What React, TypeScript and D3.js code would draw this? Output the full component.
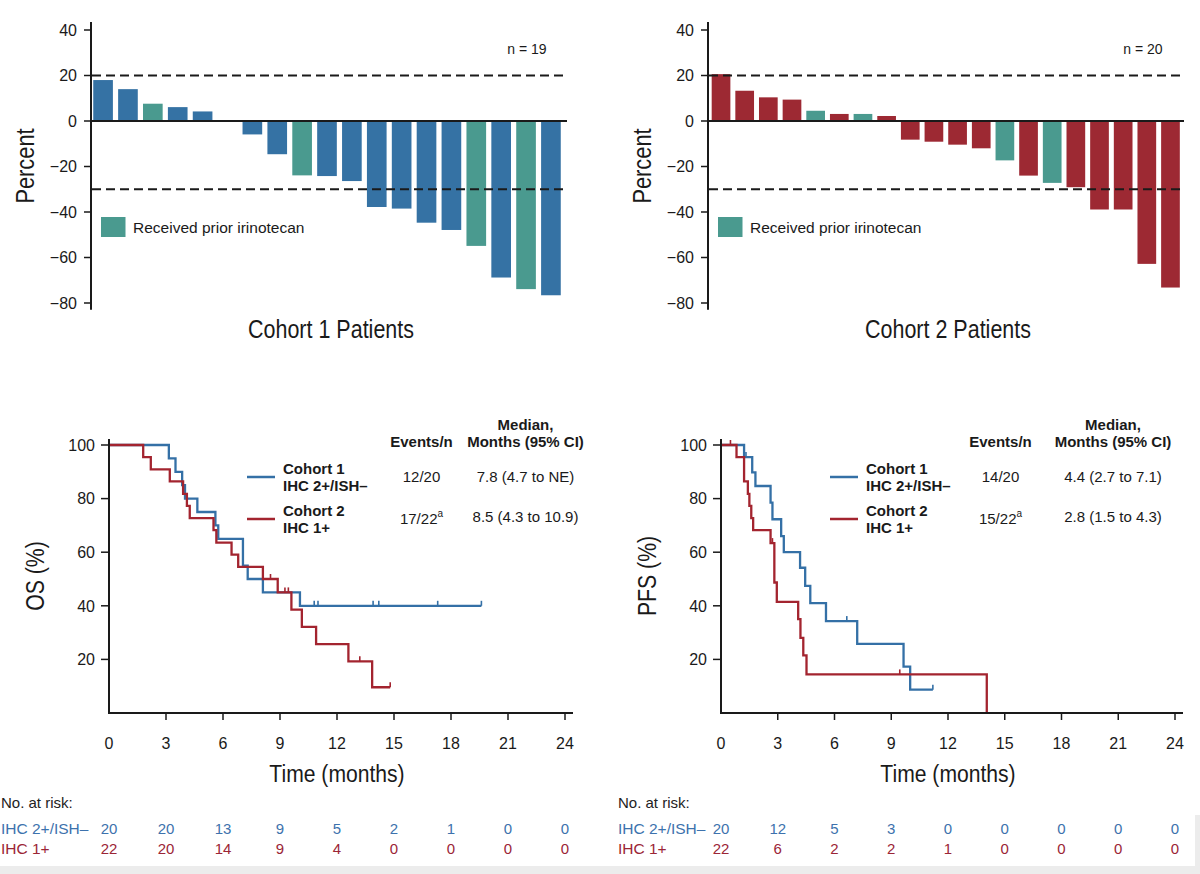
import React from "react";
import * as d3 from "d3";

// ---------- Waterfall data ----------
const cohort1Change = [18, 14, 7.6, 6.1, 4.2, 0, -5.9, -14.6, -23.9, -24.2, -26.4, -37.8, -38.5, -44.7, -47.9, -54.9, -68.8, -73.9, -76.6];
const cohort1PriorIrinotecan = [false, false, true, false, false, false, false, false, true, false, false, false, false, false, false, true, false, true, false];
const cohort2Change = [20.6, 13.3, 10.4, 9.4, 4.5, 3.1, 3.1, 2.2, -8.2, -9.1, -10.4, -12.0, -17.3, -24.0, -27.2, -29.1, -38.9, -38.9, -62.8, -73.2];
const cohort2PriorIrinotecan = [false, false, false, false, true, false, true, false, false, false, false, false, true, false, true, false, false, false, false, false];
const waterfallTicks = [40, 20, 0, -20, -40, -60, -80];
const responseThresholds = [20, -30];

// ---------- Kaplan-Meier data ----------
const osC1Times = [0, 3.15, 3.5, 3.85, 4.0, 4.65, 5.6, 5.75, 7.05, 7.3, 8.1, 10.05];
const osC1Surv = [100, 95, 90, 85, 80, 75, 70, 65, 55, 50, 45, 40];
const osC1End = 19.6;
const osC1Censor = [10.8, 11.0, 13.9, 14.2, 17.3, 19.6];

const osC2Times = [0, 1.8, 2.2, 3.2, 3.9, 4.1, 4.25, 5.5, 5.65, 6.45, 6.8, 8.1, 8.88, 9.6, 10.15, 10.9, 12.6, 13.85];
const osC2Surv = [100, 95.5, 90.9, 86.4, 81.8, 77.3, 72.7, 68.2, 63.6, 59.1, 54.5, 50, 45, 38.6, 32.1, 25.7, 19.3, 9.6];
const osC2End = 14.8;
const osC2Censor = [8.5, 9.26, 9.44, 13.2, 14.8];

const pfsC1Times = [0, 1.22, 1.65, 1.82, 2.62, 2.72, 3.18, 3.32, 4.18, 4.45, 4.72, 5.55, 7.2, 9.65, 10.0];
const pfsC1Surv = [100, 95.5, 89.8, 84.7, 78.5, 72.3, 66, 60, 54.2, 47.4, 41, 34.3, 25.8, 17.3, 8.7];
const pfsC1End = 11.2;
const pfsC1Censor = [1.32, 6.65, 11.2];

const pfsC2Times = [0, 0.82, 1.22, 1.42, 1.5, 1.6, 1.7, 2.62, 2.82, 2.95, 4.08, 4.2, 4.35, 4.52, 14.05];
const pfsC2Surv = [100, 95.5, 86.4, 81.8, 77.3, 72.7, 68.2, 63.4, 48.7, 41.5, 35, 28, 21.5, 14.4, 0];
const pfsC2End = 14.05;
const pfsC2Censor = [0.5, 2.72, 9.45];

const kmTicksX = [0, 3, 6, 9, 12, 15, 18, 21, 24];
const kmTicksY = [20, 40, 60, 80, 100];
const riskTimes = [0, 3, 6, 9, 12, 15, 18, 21, 24];
const riskOsC1 = [20, 20, 13, 9, 5, 2, 1, 0, 0];
const riskOsC2 = [22, 20, 14, 9, 4, 0, 0, 0, 0];
const riskPfsC1 = [20, 12, 5, 3, 0, 0, 0, 0, 0];
const riskPfsC2 = [22, 6, 2, 2, 1, 0, 0, 0, 0];

const BLUE_BAR = "#3572a4";
const TEAL = "#4a9a8f";
const RED_BAR = "#9d2933";
const KM_BLUE = "#3470a6";
const KM_RED = "#a3242f";
const RISK_BLUE = "#3d72ad";
const RISK_RED = "#9b2536";
const INK = "#1a1a1a";
const FONT = "'Liberation Sans', Arial, Helvetica, sans-serif";

type WfProps = {
  values: number[];
  flags: boolean[];
  color: string;
  axisX: number;
  range: [number, number];
  lineEnd: number;
  nLabel: string;
  nX: number;
  legendX: number;
  title: string;
  titleX: number;
  yTitleX: number;
};

function Waterfall(p: WfProps) {
  const y = d3.scaleLinear().domain([40, -80]).range([30, 303]);
  const x = d3
    .scaleBand<number>()
    .domain(p.values.map((_, i) => i))
    .range(p.range)
    .paddingInner(0.21)
    .paddingOuter(0.05);
  const y0 = y(0);
  return (
    <g>
      {p.values.map((v, i) => (
        <rect
          key={i}
          x={x(i)}
          width={x.bandwidth()}
          y={Math.min(y(v), y0)}
          height={Math.abs(y(v) - y0)}
          fill={p.flags[i] ? TEAL : p.color}
        />
      ))}
      <line x1={p.axisX} x2={p.lineEnd} y1={y0} y2={y0} stroke={INK} strokeWidth={2.2} />
      {responseThresholds.map((t) => (
        <line
          key={t}
          x1={p.axisX + 1}
          x2={p.lineEnd}
          y1={y(t)}
          y2={y(t)}
          stroke={INK}
          strokeWidth={2.2}
          strokeDasharray="9 5"
        />
      ))}
      <line x1={p.axisX} x2={p.axisX} y1={y(43.5)} y2={y(-83)} stroke={INK} strokeWidth={2} />
      {waterfallTicks.map((t) => (
        <g key={t}>
          <line x1={p.axisX - 7} x2={p.axisX} y1={y(t)} y2={y(t)} stroke={INK} strokeWidth={1.5} />
          <text x={p.axisX - 14} y={y(t)} dy="0.36em" textAnchor="end" fontSize={16} fill={INK} fontFamily={FONT}>
            {t < 0 ? "\u2212" + Math.abs(t) : String(t)}
          </text>
        </g>
      ))}
      <text x={p.nX} y={54} textAnchor="middle" fontSize={14} fill={INK} fontFamily={FONT}>
        {p.nLabel}
      </text>
      <rect x={p.legendX} y={217} width={24.5} height={20} fill={TEAL} />
      <text x={p.legendX + 32} y={232.5} fontSize={15.5} fill={INK} fontFamily={FONT}>
        Received prior irinotecan
      </text>
      <text
        transform={`translate(${p.titleX},338) scale(0.86,1)`}
        textAnchor="middle"
        fontSize={25}
        fill={INK}
        fontFamily={FONT}
      >
        {p.title}
      </text>
      <text
        transform={`translate(${p.yTitleX},166) rotate(-90) scale(0.84,1)`}
        textAnchor="middle"
        fontSize={26}
        fill={INK}
        fontFamily={FONT}
      >
        Percent
      </text>
    </g>
  );
}

type KmProps = {
  x0: number;
  x24: number;
  yTitle: string;
  yTitleX: number;
  c1: { t: number[]; s: number[]; end: number; censor: number[] };
  c2: { t: number[]; s: number[]; end: number; censor: number[] };
  legendX: number;
  eventsX: number;
  medianX: number;
  ev1: string;
  ev2: string;
  med1: string;
  med2: string;
  risk1: number[];
  risk2: number[];
  riskLabelX: number;
};

function survAt(t: number[], s: number[], time: number) {
  let v = s[0];
  for (let i = 0; i < t.length; i++) if (t[i] <= time) v = s[i];
  return v;
}

function KmPanel(p: KmProps) {
  const x = d3.scaleLinear().domain([0, 24]).range([p.x0, p.x24]);
  const y = d3.scaleLinear().domain([0, 100]).range([713, 445]);
  const line = d3
    .line<[number, number]>()
    .x((d) => x(d[0]))
    .y((d) => y(d[1]))
    .curve(d3.curveStepAfter);
  const curve = (c: KmProps["c1"], color: string) => {
    const pts: [number, number][] = c.t.map((t, i) => [t, c.s[i]] as [number, number]);
    pts.push([c.end, c.s[c.s.length - 1]]);
    return (
      <g>
        <path d={line(pts) || ""} fill="none" stroke={color} strokeWidth={2.3} />
        {c.censor.map((ct, i) => {
          const sv = survAt(c.t, c.s, ct);
          return <line key={i} x1={x(ct)} x2={x(ct)} y1={y(sv) - 5} y2={y(sv)} stroke={color} strokeWidth={1.6} />;
        })}
      </g>
    );
  };
  const axisRight = x(24) + 8;
  const bold = { fontFamily: FONT, fontWeight: 700, fontSize: 15, fill: INK } as const;
  const reg = { fontFamily: FONT, fontSize: 15, fill: INK } as const;
  return (
    <g>
      {curve(p.c1, KM_BLUE)}
      {curve(p.c2, KM_RED)}
      <line x1={p.x0} x2={p.x0} y1={439} y2={714} stroke={INK} strokeWidth={2} />
      <line x1={p.x0 - 1} x2={axisRight} y1={713} y2={713} stroke={INK} strokeWidth={2} />
      {kmTicksY.map((t) => (
        <g key={t}>
          <line x1={p.x0 - 8} x2={p.x0} y1={y(t)} y2={y(t)} stroke={INK} strokeWidth={1.5} />
          <text x={p.x0 - 14} y={y(t)} dy="0.36em" textAnchor="end" fontSize={16} fill={INK} fontFamily={FONT}>
            {t}
          </text>
        </g>
      ))}
      {kmTicksX.map((t) => (
        <g key={t}>
          {t > 0 && <line x1={x(t)} x2={x(t)} y1={713} y2={720} stroke={INK} strokeWidth={1.5} />}
          <text x={x(t)} y={749} textAnchor="middle" fontSize={16} fill={INK} fontFamily={FONT}>
            {t}
          </text>
        </g>
      ))}
      <text
        transform={`translate(${(p.x0 + p.x24) / 2},782) scale(0.88,1)`}
        textAnchor="middle"
        fontSize={24}
        fill={INK}
        fontFamily={FONT}
      >
        Time (months)
      </text>
      <text
        transform={`translate(${p.yTitleX},576) rotate(-90) scale(0.85,1)`}
        textAnchor="middle"
        fontSize={25}
        fill={INK}
        fontFamily={FONT}
      >
        {p.yTitle}
      </text>
      {/* legend */}
      <line x1={p.legendX} x2={p.legendX + 28} y1={477} y2={477} stroke={KM_BLUE} strokeWidth={2.5} />
      <line x1={p.legendX} x2={p.legendX + 28} y1={519} y2={519} stroke={KM_RED} strokeWidth={2.5} />
      <text x={p.legendX + 36} y={474} {...bold}>Cohort 1</text>
      <text x={p.legendX + 36} y={491} {...bold}>IHC 2+/ISH–</text>
      <text x={p.legendX + 36} y={516} {...bold}>Cohort 2</text>
      <text x={p.legendX + 36} y={533} {...bold}>IHC 1+</text>
      <text x={p.eventsX} y={447} textAnchor="middle" {...bold}>Events/n</text>
      <text x={p.medianX} y={430} textAnchor="middle" {...bold}>Median,</text>
      <text x={p.medianX} y={447} textAnchor="middle" {...bold}>Months (95% CI)</text>
      <text x={p.eventsX} y={481.5} textAnchor="middle" {...reg}>{p.ev1}</text>
      <text x={p.medianX} y={481.5} textAnchor="middle" {...reg}>{p.med1}</text>
      <text x={p.eventsX} y={523.5} textAnchor="middle" {...reg}>
        {p.ev2}
        <tspan fontSize={10} dy={-7}>a</tspan>
      </text>
      <text x={p.medianX} y={521.5} textAnchor="middle" {...reg}>{p.med2}</text>
      {/* risk table */}
      <text x={p.riskLabelX} y={808} fontSize={15} fill="#222" fontFamily={FONT}>No. at risk:</text>
      <text x={p.riskLabelX} y={834} fontSize={15.5} fill={RISK_BLUE} fontFamily={FONT}>IHC 2+/ISH–</text>
      <text x={p.riskLabelX} y={854} fontSize={15.5} fill={RISK_RED} fontFamily={FONT}>IHC 1+</text>
      {riskTimes.map((t, i) => (
        <g key={t}>
          <text x={x(t)} y={834} textAnchor="middle" fontSize={15} fill={RISK_BLUE} fontFamily={FONT}>
            {p.risk1[i]}
          </text>
          <text x={x(t)} y={854} textAnchor="middle" fontSize={15} fill={RISK_RED} fontFamily={FONT}>
            {p.risk2[i]}
          </text>
        </g>
      ))}
    </g>
  );
}

export default function App() {
  return (
    <svg
      width={1200}
      height={874}
      viewBox="0 0 1200 874"
      style={{ position: "absolute", left: 0, top: 0, background: "#fff" }}
    >
      <rect x={0} y={0} width={1200} height={874} fill="#fff" />
      <Waterfall
        values={cohort1Change}
        flags={cohort1PriorIrinotecan}
        color={BLUE_BAR}
        axisX={91}
        range={[92, 562]}
        lineEnd={567}
        nLabel="n = 19"
        nX={527}
        legendX={101}
        title="Cohort 1 Patients"
        titleX={331}
        yTitleX={34}
      />
      <Waterfall
        values={cohort2Change}
        flags={cohort2PriorIrinotecan}
        color={RED_BAR}
        axisX={708}
        range={[710.5, 1181]}
        lineEnd={1184}
        nLabel="n = 20"
        nX={1143}
        legendX={718}
        title="Cohort 2 Patients"
        titleX={948}
        yTitleX={651}
      />
      <KmPanel
        x0={109}
        x24={565}
        yTitle="OS (%)"
        yTitleX={44}
        c1={{ t: osC1Times, s: osC1Surv, end: osC1End, censor: osC1Censor }}
        c2={{ t: osC2Times, s: osC2Surv, end: osC2End, censor: osC2Censor }}
        legendX={247}
        eventsX={421.5}
        medianX={525.5}
        ev1="12/20"
        ev2="17/22"
        med1="7.8 (4.7 to NE)"
        med2="8.5 (4.3 to 10.9)"
        risk1={riskOsC1}
        risk2={riskOsC2}
        riskLabelX={1}
      />
      <KmPanel
        x0={721}
        x24={1175}
        yTitle="PFS (%)"
        yTitleX={656}
        c1={{ t: pfsC1Times, s: pfsC1Surv, end: pfsC1End, censor: pfsC1Censor }}
        c2={{ t: pfsC2Times, s: pfsC2Surv, end: pfsC2End, censor: pfsC2Censor }}
        legendX={830}
        eventsX={1000.5}
        medianX={1113}
        ev1="14/20"
        ev2="15/22"
        med1="4.4 (2.7 to 7.1)"
        med2="2.8 (1.5 to 4.3)"
        risk1={riskPfsC1}
        risk2={riskPfsC2}
        riskLabelX={618}
      />
      <rect x={0} y={866} width={1200} height={8} fill="#ececec" />
      <rect x={1195} y={815} width={5} height={59} fill="#ececec" />
    </svg>
  );
}
